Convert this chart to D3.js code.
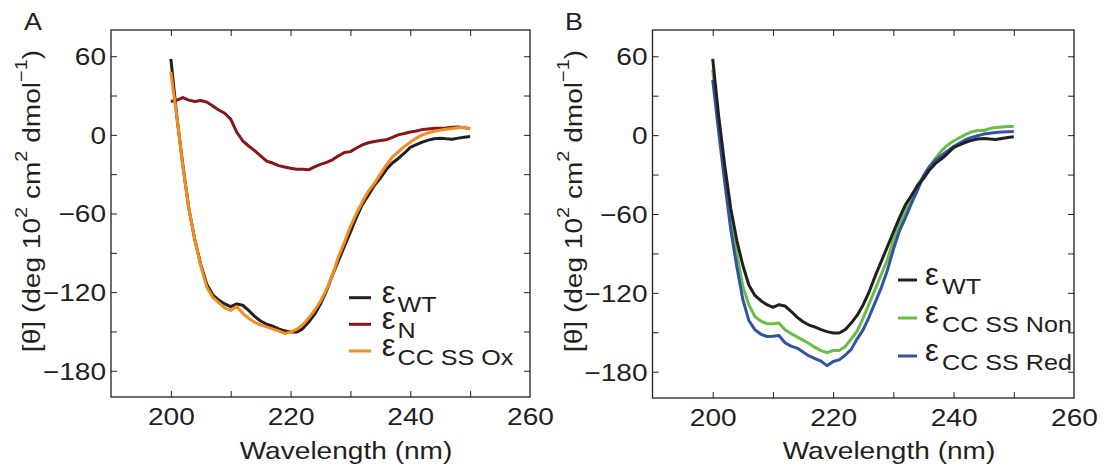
<!DOCTYPE html>
<html><head><meta charset="utf-8">
<script src="https://cdn.jsdelivr.net/npm/d3@7"></script>
<style>
body{margin:0;background:#fff}
svg{display:block}
text{font-family:"Liberation Sans",Arial,Helvetica,sans-serif;fill:#231f20}
</style>
</head><body>
<svg id="chart" width="1104" height="469"></svg>
<script>
// ---------------- DATA ----------------
const wavelength = [200,201,202,203,204,205,206,207,208,209,210,211,212,213,214,215,216,217,218,219,220,
  221,222,223,224,225,226,227,228,229,230,231,232,233,234,235,236,237,238,239,240,
  241,242,243,244,245,246,247,248,249,250];

const epsWT = [58,14,-23,-56,-80,-99,-114,-122,-126,-129,-131,-129,-130,-134,-138.5,-142,-144.5,-146,-148,-149.5,-150.5,
  -150.5,-148,-143,-137,-129,-119,-107,-96,-85,-74,-63,-53,-46,-38.5,-33,-26.5,-21.5,-18,-14,-9.5,
  -7.5,-5.5,-4,-3,-2.5,-3,-3.3,-2.5,-1.8,-1.3];

const epsN = [25.5,26.5,28.5,26.5,25.5,26.2,25,22,19,16.5,12,2,-4.5,-8.5,-12,-16,-20,-21.5,-23.5,-24.5,-25.5,
  -26.2,-26.2,-26.7,-24.5,-22.5,-21,-19,-16,-13.5,-12.8,-10,-7.6,-6,-5,-4.3,-3.8,-2,0,1,2.2,
  3,4,4.5,5,5.1,5.3,5.8,6,5.5,4.6];

const epsCCSSOx = [48,14,-24,-56,-80,-100,-116,-124,-128,-132,-134,-131,-136,-140,-143,-145,-146.5,-148,-149.5,-151.5,-150.5,
  -148.5,-145,-140,-134,-127,-118,-107,-93,-82,-70,-60,-51,-43,-37,-30,-23,-17,-13,-9,-5.5,
  -2.5,0,1.5,2.7,3.6,4.3,4.8,5.5,5.8,4.6];

const epsCCSSNon = [50,6,-30,-62,-90,-115,-129,-138,-141.5,-143.5,-143.5,-143,-148,-151,-153.5,-156,-158.5,-161.5,-164,-165.5,-163.8,
  -163.8,-161,-155,-149,-139,-128,-117,-106,-95,-80,-68,-58,-47,-38,-31,-24,-17.5,-12,-7.5,-4.5,
  -2,0.5,2.5,3.5,3.5,5,5.8,6.2,6.5,6.5];

const epsCCSSRed = [42,2,-36,-72,-100,-125,-141,-148,-151.5,-153.2,-153,-152.5,-158,-160.5,-162,-165,-168,-170,-172,-175.4,-172.2,
  -171,-167.5,-163,-155,-148,-138,-127,-116,-103,-87,-73,-63,-52,-42,-31,-24,-19,-15.5,-12,-8.7,
  -6,-3.5,-1.8,-0.5,0.8,1.5,2,2.3,2.6,2.7];

const xTickMarks = [200,210,220,230,240,250];
const xTickLabels = [200,220,240,260];
const yTickMarks = [-180,-150,-120,-90,-60,-30,0,30,60];
const yTickLabels = [-180,-120,-60,0,60];
const xDomain = [190,260];
const yDomain = [-200,80];

const xTitle = "Wavelength (nm)";
const panelLetters = ["A","B"];

const seriesA = [
  {name:"WT", values:epsWT, color:"#231f20"},
  {name:"N", values:epsN, color:"#861619"},
  {name:"CC SS Ox", values:epsCCSSOx, color:"#f68b1f"}
];
const seriesB = [
  {name:"WT", values:epsWT, color:"#231f20"},
  {name:"CC SS Non", values:epsCCSSNon, color:"#6abd45"},
  {name:"CC SS Red", values:epsCCSSRed, color:"#3153a4"}
];
const drawOrderB = [1,2,0];

// ---------------- LAYOUT ----------------
const SX = 1.17; // horizontal glyph stretch
const ink = "#231f20";
const svg = d3.select("#chart");
const defs = svg.append("defs");

const panels = [
  {letter:panelLetters[0], series:seriesA, order:[0,1,2], l:111, r:530, t:30, b:397, letterX:24,
   ylabX:40, titleX:346, leg:{lineX0:349,lineX1:371, epsX:381.7, subX:397.5, rows:[297.7,324.3,351]}},
  {letter:panelLetters[1], series:seriesB, order:drawOrderB, l:652.5, r:1074, t:30, b:398, letterX:565,
   ylabX:581.5, titleX:889, leg:{lineX0:898,lineX1:917, epsX:925, subX:942, rows:[280,318,356]}}
];

function stretchText(g, x, y, str, fs, anchor, rot) {
  return g.append("text")
    .attr("transform", `translate(${x},${y}) rotate(${rot||0}) scale(${SX},1)`)
    .attr("text-anchor", anchor || "start")
    .attr("font-size", fs)
    .text(str);
}

panels.forEach((p, pi) => {
  const x = d3.scaleLinear().domain(xDomain).range([p.l, p.r]);
  const y = d3.scaleLinear().domain(yDomain).range([p.b, p.t]);
  const g = svg.append("g");

  const clipId = "clip" + pi;
  defs.append("clipPath").attr("id", clipId).append("rect")
    .attr("x", p.l).attr("y", p.t).attr("width", p.r - p.l).attr("height", p.b - p.t);

  // tick marks (inward, all four sides)
  const tickLen = 6;
  const mk = (axis, tr) => {
    const a = g.append("g").attr("transform", tr).call(axis);
    a.select(".domain").remove();
    a.selectAll(".tick line").attr("stroke", ink).attr("stroke-width", 1);
    a.selectAll(".tick text").remove();
  };
  mk(d3.axisBottom(x).tickValues(xTickMarks).tickSizeInner(-tickLen).tickSizeOuter(0), `translate(0,${p.b})`);
  mk(d3.axisTop(x).tickValues(xTickMarks).tickSizeInner(-tickLen).tickSizeOuter(0), `translate(0,${p.t})`);
  mk(d3.axisLeft(y).tickValues(yTickMarks).tickSizeInner(-tickLen).tickSizeOuter(0), `translate(${p.l},0)`);
  mk(d3.axisRight(y).tickValues(yTickMarks).tickSizeInner(-tickLen).tickSizeOuter(0), `translate(${p.r},0)`);

  // tick labels
  const fmt = d => (d < 0 ? "\u2212" + Math.abs(d) : String(d));
  const xb = g.append("g").attr("transform", `translate(0,${p.b})`)
    .call(d3.axisBottom(x).tickValues(xTickLabels).tickSize(0).tickPadding(11).tickFormat(fmt));
  xb.select(".domain").remove();
  xb.attr("font-family", null).attr("font-size", null);
  xb.selectAll("text").attr("font-size", 24).attr("fill", ink)
    .attr("transform", `scale(${SX},1)`).attr("x", 0);
  const yl = g.append("g").attr("transform", `translate(${p.l},0)`)
    .call(d3.axisLeft(y).tickValues(yTickLabels).tickSize(0).tickPadding(5).tickFormat(fmt));
  yl.select(".domain").remove();
  yl.attr("font-family", null).attr("font-size", null);
  yl.selectAll("text").attr("font-size", 24).attr("fill", ink)
    .attr("x", -5 / SX).attr("dy", "0.35em").attr("transform", `scale(${SX},1)`);

  // series lines
  const line = d3.line().x((d, i) => x(wavelength[i])).y(d => y(d));
  p.order.forEach(k => {
    const s = p.series[k];
    g.append("path").datum(s.values)
      .attr("d", line).attr("fill", "none")
      .attr("stroke", s.color).attr("stroke-width", 3)
      .attr("stroke-linejoin", "round").attr("stroke-linecap", "butt");
  });

  // frame
  g.append("rect").attr("x", p.l).attr("y", p.t).attr("width", p.r - p.l).attr("height", p.b - p.t)
    .attr("fill", "none").attr("stroke", ink).attr("stroke-width", 1.3);

  // legend
  const lg = g.append("g").attr("clip-path", `url(#${clipId})`);
  p.series.forEach((s, i) => {
    const ry = p.leg.rows[i];
    lg.append("line").attr("x1", p.leg.lineX0).attr("x2", p.leg.lineX1)
      .attr("y1", ry).attr("y2", ry).attr("stroke", s.color).attr("stroke-width", 3);
    lg.append("text").attr("x", p.leg.epsX).attr("y", ry + 5).attr("font-size", 31).text("\u03B5");
    stretchText(lg, p.leg.subX, ry + 14, s.name, 21.5, "start");
  });

  // axis titles
  stretchText(g, p.titleX, 459, xTitle, 24, "middle");
  const yt = g.append("text")
    .attr("transform", `translate(${p.ylabX},201) rotate(-90) scale(${SX},1)`)
    .attr("text-anchor", "middle").attr("font-size", 24);
  yt.append("tspan").text("[\u03B8] (deg 10");
  yt.append("tspan").attr("dy", -13).attr("font-size", 17).text("2");
  yt.append("tspan").attr("dy", 13).text(" cm");
  yt.append("tspan").attr("dy", -13).attr("font-size", 17).text("2");
  yt.append("tspan").attr("dy", 13).text(" dmol");
  yt.append("tspan").attr("dy", -13).attr("font-size", 17).text("\u22121");
  yt.append("tspan").attr("dy", 13).text(")");

  // panel letter
  stretchText(g, p.letterX, 30, p.letter, 23, "start");
});
</script>
</body></html>
